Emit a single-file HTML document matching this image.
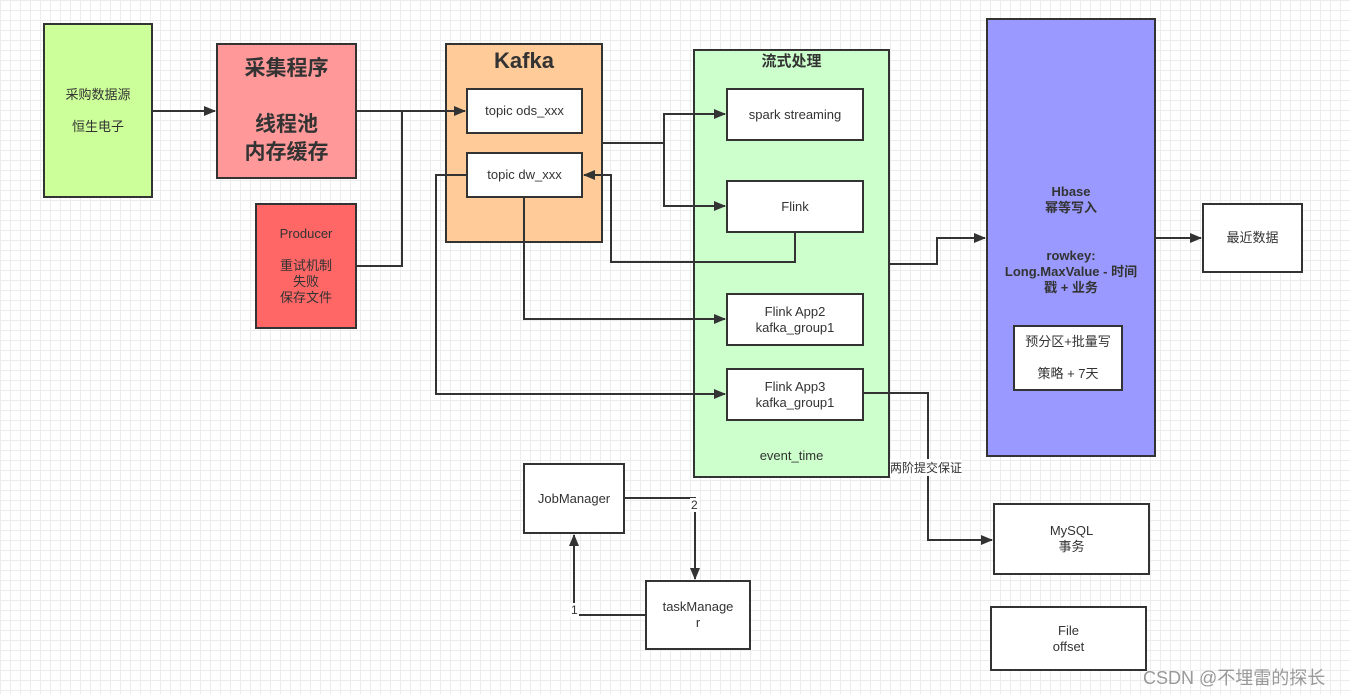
<!DOCTYPE html>
<html><head><meta charset="utf-8"><style>
body{margin:0;width:1350px;height:694px;overflow:hidden;background:#fff;
background-image:linear-gradient(#ececec 1px,transparent 1px),linear-gradient(90deg,#ececec 1px,transparent 1px);background-size:10px 10px;
font-family:"Liberation Sans","Noto Sans CJK SC",sans-serif;color:#333;}
.b{position:absolute;box-sizing:border-box;border:2px solid #333;display:flex;align-items:center;justify-content:center;text-align:center;font-size:13px;line-height:16px;}
svg{position:absolute;left:0;top:0}
.t{position:absolute;font-size:13px;}
</style></head><body>
<div class="b" style="left:43px;top:23px;width:110px;height:175px;background:#ccff99">采购数据源<br><br>恒生电子</div>
<div class="b" style="left:216px;top:43px;width:141px;height:136px;background:#ff9999;font-size:21px;font-weight:bold;line-height:28px">采集程序<br><br>线程池<br>内存缓存</div>
<div class="b" style="left:255px;top:203px;width:102px;height:126px;background:#ff6666">Producer<br><br>重试机制<br>失败<br>保存文件</div>
<div class="b" style="left:445px;top:43px;width:158px;height:200px;background:#ffcc99;align-items:flex-start;font-size:22px;font-weight:bold;padding-top:3px;line-height:26px">Kafka</div>
<div class="b" style="left:466px;top:88px;width:117px;height:46px;background:#fff">topic ods_xxx</div>
<div class="b" style="left:466px;top:152px;width:117px;height:46px;background:#fff">topic dw_xxx</div>
<div class="b" style="left:693px;top:49px;width:197px;height:429px;background:#ccffcc;align-items:flex-start;font-size:15px;font-weight:bold;padding-top:3px">流式处理</div>
<div class="t" style="left:693px;top:448px;width:197px;text-align:center">event_time</div>
<div class="b" style="left:986px;top:18px;width:170px;height:439px;background:#9999ff;font-weight:bold;align-items:flex-start;padding-top:164px">Hbase<br>幂等写入<br><br><br>rowkey:<br>Long.MaxValue - 时间<br>戳 + 业务</div>
<div class="b" style="left:1013px;top:325px;width:110px;height:66px;background:#fff">预分区+批量写<br><br>策略 + 7天</div>
<div class="b" style="left:1202px;top:203px;width:101px;height:70px;background:#fff">最近数据</div>
<div class="b" style="left:523px;top:463px;width:102px;height:71px;background:#fff">JobManager</div>
<div class="b" style="left:645px;top:580px;width:106px;height:70px;background:#fff">taskManage<br>r</div>
<div class="b" style="left:993px;top:503px;width:157px;height:72px;background:#fff">MySQL<br>事务</div>
<div class="b" style="left:990px;top:606px;width:157px;height:65px;background:#fff">File<br>offset</div>
<svg width="1350" height="694"><defs><marker id="a" markerWidth="12" markerHeight="10" refX="11" refY="5" orient="auto" markerUnits="userSpaceOnUse"><path d="M0,0L12,5L0,10z" fill="#333"/></marker></defs>
<g fill="none" stroke="#333" stroke-width="2">
<path d="M153,111H215" marker-end="url(#a)"/>
<path d="M357,111H465" marker-end="url(#a)"/>
<path d="M357,266H402V111"/>
<path d="M603,143H664V114H725" marker-end="url(#a)"/>
<path d="M664,143V206H725" marker-end="url(#a)"/>
<path d="M795,233V262H611V175H584" marker-end="url(#a)"/>
<path d="M466,175H436V394H725" marker-end="url(#a)"/>
<path d="M524,198V319H725" marker-end="url(#a)"/>
<path d="M890,264H937V238H985" marker-end="url(#a)"/>
<path d="M1156,238H1201" marker-end="url(#a)"/>
<path d="M864,393H928V540H992" marker-end="url(#a)"/>
<path d="M625,498H695V579" marker-end="url(#a)"/>
<path d="M645,615H574V535" marker-end="url(#a)"/>
</g></svg>
<div class="b" style="left:726px;top:88px;width:138px;height:53px;background:#fff">spark streaming</div>
<div class="b" style="left:726px;top:180px;width:138px;height:53px;background:#fff">Flink</div>
<div class="b" style="left:726px;top:293px;width:138px;height:53px;background:#fff">Flink App2<br>kafka_group1</div>
<div class="b" style="left:726px;top:368px;width:138px;height:53px;background:#fff">Flink App3<br>kafka_group1</div>
<div class="t" style="left:890px;top:459px;background:#fff;font-size:12px">两阶提交保证</div>
<div class="t" style="left:690px;top:498px;background:#fff;font-size:12px;padding:0 1px">2</div>
<div class="t" style="left:570px;top:603px;background:#fff;font-size:12px;padding:0 1px">1</div>
<div class="t" style="left:1143px;top:664px;font-size:18px;color:#999">CSDN @不埋雷的探长</div>
</body></html>
